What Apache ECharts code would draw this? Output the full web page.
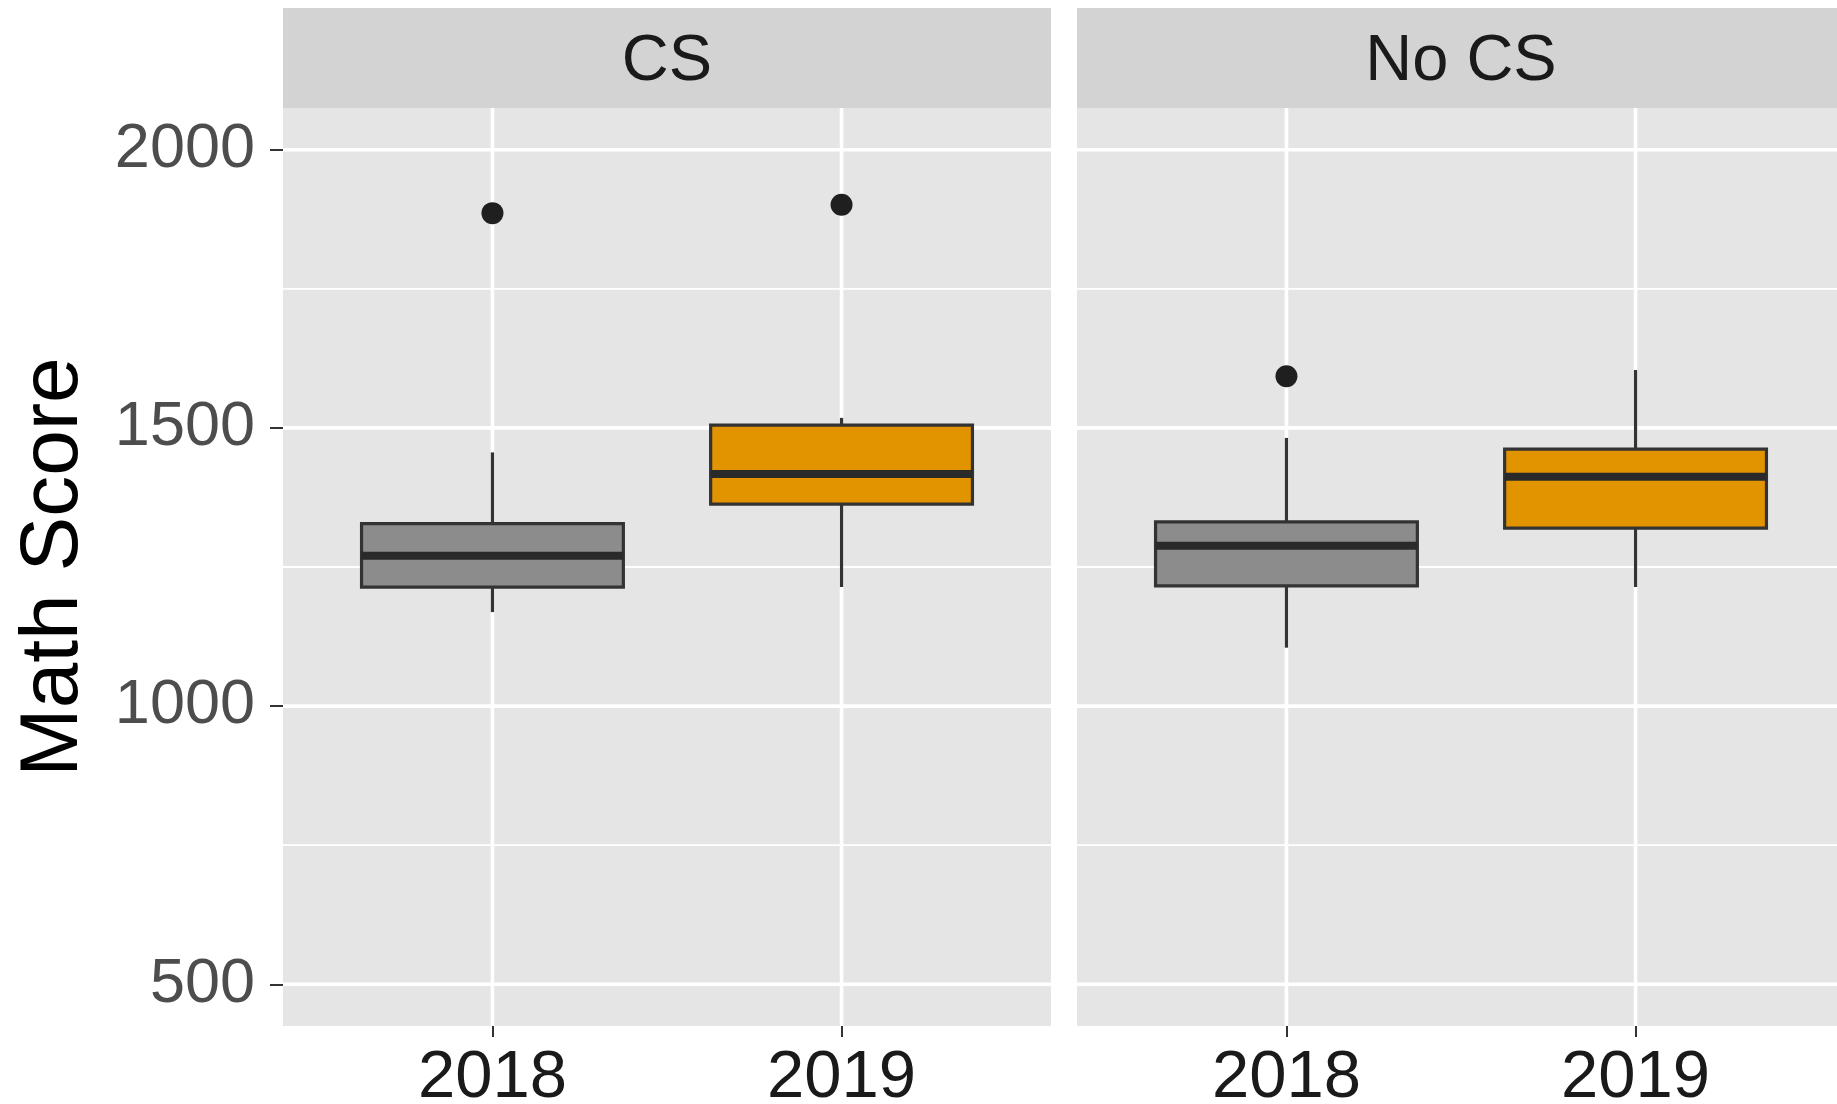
<!DOCTYPE html>
<html>
<head>
<meta charset="utf-8">
<title>Math Score by year, CS vs No CS</title>
<script src="https://cdn.jsdelivr.net/npm/echarts@6/dist/echarts.min.js"></script>
<style>
  html, body { margin: 0; padding: 0; background: #ffffff; }
  #chart { width: 1837px; height: 1104px; }
</style>
</head>
<body>
<div id="chart"></div>
<script>
// ---- data ----
const panels = ['CS', 'No CS'];
const years = ['2018', '2019'];
// five-number summaries per year: [lower whisker, Q1, median, Q3, upper whisker]
const csStats = [
  [1169, 1214, 1270, 1328, 1456],
  [1214, 1363, 1417, 1505, 1518]
];
const noCsStats = [
  [1105, 1216, 1288, 1331, 1482],
  [1214, 1320, 1412, 1462, 1604]
];
// outliers per year: [year index (1-based), value]
const csOutliers = [[1, 1886], [2, 1901]];
const noCsOutliers = [[1, 1593]];
// axis ticks
const yMajor = [500, 1000, 1500, 2000];
const yMinor = [750, 1250, 1750];
const yLimits = [500, 2000];
const yLabel = 'Math Score';

// ---- style ----
const FONT = "'Liberation Sans', Arial, Helvetica, sans-serif";
const fills = ['#8c8c8c', '#e29300'];
const PANEL_BG = '#e5e5e5';
const STRIP_BG = '#d3d3d3';
const X_MIN = 0.4, X_MAX = 2.6;            // discrete scale with 0.6 padding each side
const Y_PAD = (yLimits[1] - yLimits[0]) * 0.05;
const Y_MIN = yLimits[0] - Y_PAD, Y_MAX = yLimits[1] + Y_PAD;

const layout = {
  top: 108, height: 918, width: 768,
  lefts: [283, 1077],
  stripTop: 8
};

const chart = echarts.init(document.getElementById('chart'), null, { renderer: 'canvas' });

const grids = [], xAxes = [], yAxes = [], series = [], graphics = [];

panels.forEach((name, p) => {
  grids.push({
    left: layout.lefts[p], top: layout.top, width: layout.width, height: layout.height,
    show: true, backgroundColor: PANEL_BG, borderWidth: 0,
    containLabel: false, outerBoundsMode: 'none'
  });
  xAxes.push({
    gridIndex: p, type: 'value', min: X_MIN, max: X_MAX,
    axisLine: { show: false },
    splitLine: { show: false },
    axisTick: { show: true, customValues: [1, 2], length: 11, inside: false,
                lineStyle: { color: '#333333', width: 2 } },
    axisLabel: { show: true, customValues: [1, 2], margin: 19,
                 formatter: v => years[Math.round(v) - 1],
                 color: '#1a1a1a', fontSize: 67, fontFamily: FONT }
  });
  yAxes.push({
    gridIndex: p, type: 'value', min: Y_MIN, max: Y_MAX,
    name: p === 0 ? yLabel : '',
    nameLocation: 'middle', nameGap: 188, nameRotate: 90,
    nameTextStyle: { color: '#000000', fontSize: 82, fontFamily: FONT },
    axisLine: { show: false },
    splitLine: { show: false },
    axisTick: { show: p === 0, customValues: yMajor, length: 13, inside: false,
                lineStyle: { color: '#333333', width: 2 } },
    axisLabel: { show: p === 0, customValues: yMajor, margin: 28,
                 formatter: v => String(v),
                 color: '#4d4d4d', fontSize: 63, fontFamily: FONT }
  });

  // horizontal grid lines (minor then major)
  const hData = yMinor.map(v => [X_MIN, v, 0]).concat(yMajor.map(v => [X_MIN, v, 1]));
  series.push({
    type: 'custom', xAxisIndex: p, yAxisIndex: p, z: 1, silent: true,
    encode: { x: 0, y: 1 },
    data: hData,
    renderItem: (params, api) => {
      const cs = params.coordSys;
      const y = api.coord([api.value(0), api.value(1)])[1];
      return {
        type: 'line',
        shape: { x1: cs.x, y1: y, x2: cs.x + cs.width, y2: y },
        style: { stroke: '#ffffff', lineWidth: api.value(2) ? 3.6 : 1.8 }
      };
    }
  });
  // vertical grid lines at each year
  series.push({
    type: 'custom', xAxisIndex: p, yAxisIndex: p, z: 1, silent: true,
    encode: { x: 0, y: 1 },
    data: years.map((_, i) => [i + 1, Y_MIN]),
    renderItem: (params, api) => {
      const cs = params.coordSys;
      const x = api.coord([api.value(0), api.value(1)])[0];
      return {
        type: 'line',
        shape: { x1: x, y1: cs.y, x2: x, y2: cs.y + cs.height },
        style: { stroke: '#ffffff', lineWidth: 3.6 }
      };
    }
  });

  // boxes
  const stats = p === 0 ? csStats : noCsStats;
  series.push({
    type: 'custom', xAxisIndex: p, yAxisIndex: p, z: 2,
    encode: { x: 0, y: [1, 2, 3, 4, 5] },
    data: stats.map((s, i) => [i + 1].concat(s)),
    renderItem: (params, api) => {
      const x = api.value(0);
      const lo = api.coord([x, api.value(1)]);
      const q1 = api.coord([x, api.value(2)]);
      const md = api.coord([x, api.value(3)]);
      const q3 = api.coord([x, api.value(4)]);
      const hi = api.coord([x, api.value(5)]);
      const half = api.size([0.375, 0])[0];
      const cx = lo[0];
      const stroke = '#333333';
      return {
        type: 'group',
        children: [
          { type: 'line', shape: { x1: cx, y1: hi[1], x2: cx, y2: q3[1] },
            style: { stroke, lineWidth: 3.2 } },
          { type: 'line', shape: { x1: cx, y1: q1[1], x2: cx, y2: lo[1] },
            style: { stroke, lineWidth: 3.2 } },
          { type: 'rect', shape: { x: cx - half, y: q3[1], width: half * 2, height: q1[1] - q3[1] },
            style: { fill: fills[params.dataIndex], stroke, lineWidth: 3.2 } },
          { type: 'line', shape: { x1: cx - half, y1: md[1], x2: cx + half, y2: md[1] },
            style: { stroke: '#2a2a2a', lineWidth: 8 } }
        ]
      };
    }
  });

  // outliers
  series.push({
    type: 'scatter', xAxisIndex: p, yAxisIndex: p, z: 3,
    data: p === 0 ? csOutliers : noCsOutliers,
    symbol: 'circle', symbolSize: 22,
    itemStyle: { color: '#1f1f1f', opacity: 1 },
    silent: true
  });

  // facet strip
  graphics.push({
    type: 'rect', silent: true,
    shape: { x: layout.lefts[p], y: layout.stripTop, width: layout.width, height: layout.top - layout.stripTop },
    style: { fill: STRIP_BG }
  });
  graphics.push({
    type: 'text', silent: true,
    x: layout.lefts[p] + layout.width / 2, y: (layout.stripTop + layout.top) / 2 + 4,
    style: { text: name, fill: '#1a1a1a', fontSize: 65, fontFamily: FONT,
             align: 'center', verticalAlign: 'middle' }
  });
});

chart.setOption({
  animation: false,
  backgroundColor: '#ffffff',
  grid: grids,
  xAxis: xAxes,
  yAxis: yAxes,
  series: series,
  graphic: graphics
});
</script>
</body>
</html>
